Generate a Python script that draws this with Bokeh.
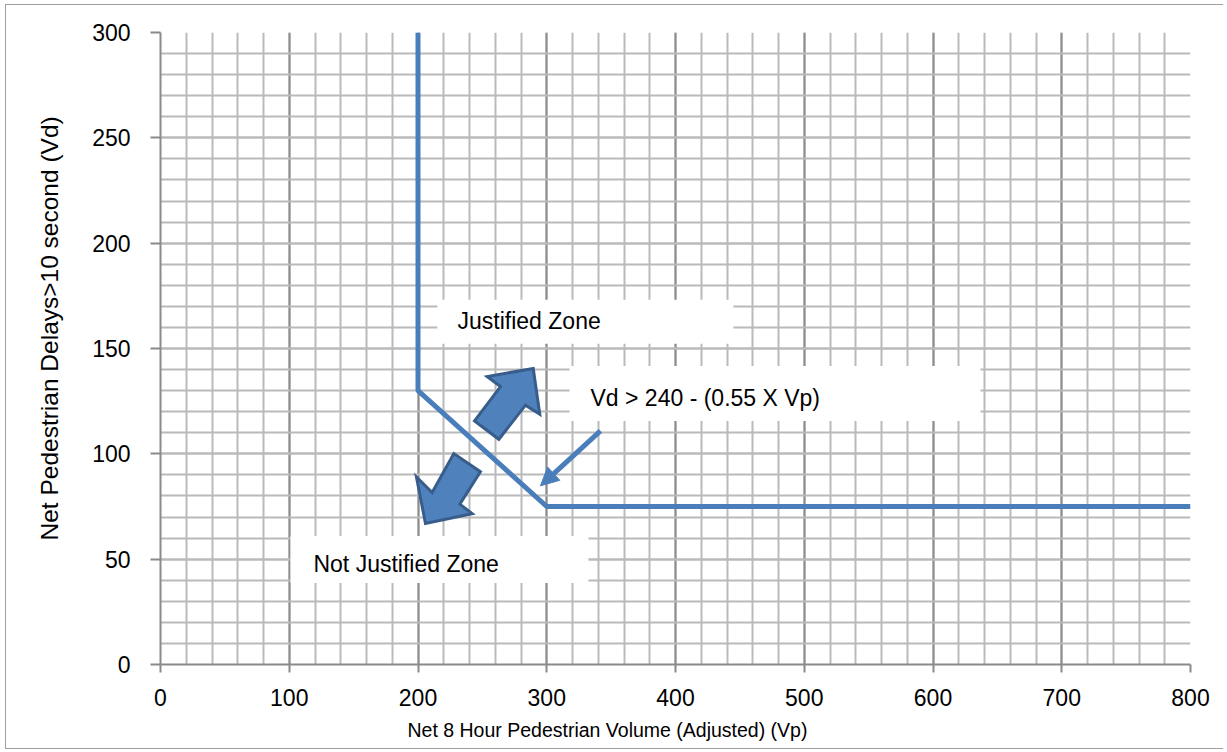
from bokeh.plotting import figure
from bokeh.models import Range1d, SingleIntervalTicker, Label, Arrow, NormalHead, Title
from bokeh.embed import file_html
from bokeh.resources import INLINE

# ---- data ----
x_title = "Net 8 Hour Pedestrian Volume (Adjusted) (Vp)"
y_title = "Net Pedestrian Delays>10 second (Vd)"
x_limits = [0, 800]
y_limits = [0, 300]
x_major_step = 100
y_major_step = 50

boundary_vp = [200, 200, 300, 800]
boundary_vd = [300, 130, 75, 75]

label_justified = "Justified Zone"
label_not_justified = "Not Justified Zone"
label_formula = "Vd > 240 - (0.55 X Vp)"

# block arrows (data units)
up_arrow_vp = [289.5, 253.7, 264.1, 243.9, 262.8, 283.5, 294.6]
up_arrow_vd = [140.5, 136.7, 131.9, 115.6, 106.9, 123.1, 118.8]
down_arrow_vp = [205.8, 198.8, 211.0, 227.8, 248.5, 232.5, 242.1]
down_arrow_vd = [66.9, 89.0, 81.6, 100.1, 91.5, 76.1, 71.6]

# pointer arrow (start -> end), data units
pointer_vp = [341.7, 295.1]
pointer_vd = [110.9, 84.8]

FONT = "Liberation Sans"
BLUE = "#4A7EBB"

p = figure(width=1218, height=745, output_backend="svg", toolbar_location=None,
           x_range=Range1d(*x_limits), y_range=Range1d(*y_limits),
           min_border_left=154, min_border_right=34, min_border_top=27, min_border_bottom=86)
p.styles = {"margin-left": "5px", "margin-top": "4px",
            "border-left": "1px solid #a0a0a0", "border-top": "1px solid #a0a0a0",
            "border-bottom": "1px solid #a0a0a0"}
p.outline_line_color = None
p.background_fill_color = "white"
p.border_fill_color = "white"

p.xaxis.ticker = SingleIntervalTicker(interval=x_major_step, num_minor_ticks=5)
p.yaxis.ticker = SingleIntervalTicker(interval=y_major_step, num_minor_ticks=5)

p.xgrid.grid_line_color = "#8c8c8c"
p.xgrid.grid_line_width = 2
p.xgrid.minor_grid_line_color = "#bababa"
p.xgrid.minor_grid_line_width = 2
p.ygrid.grid_line_color = "#bababa"
p.ygrid.grid_line_width = 2
p.ygrid.minor_grid_line_color = "#bababa"
p.ygrid.minor_grid_line_width = 2

for ax in (p.xaxis, p.yaxis):
    ax.axis_line_color = "#8a8a8a"
    ax.axis_line_width = 2
    ax.major_tick_line_color = "#8a8a8a"
    ax.major_tick_line_width = 2
    ax.major_tick_in = 0
    ax.minor_tick_line_color = None
    ax.major_label_text_font = FONT
    ax.major_label_text_font_size = "23px"
    ax.major_label_text_color = "black"
p.yaxis.major_tick_out = 10
p.yaxis.major_label_standoff = 20
p.xaxis.major_tick_out = 8
p.xaxis.major_label_standoff = 16

# white text boxes
p.quad(left=[215.1, 317.7, 101.0], right=[445.0, 636.9, 332.4],
       top=[173.1, 141.7, 61.0], bottom=[152.2, 115.6, 38.7],
       fill_color="white", line_color=None)

# boundary line
p.line(boundary_vp, boundary_vd, line_color=BLUE, line_width=5)

# block arrows
p.patches(xs=[up_arrow_vp, down_arrow_vp], ys=[up_arrow_vd, down_arrow_vd],
          fill_color="#4F81BD", line_color="#385D8A", line_width=3, line_join="miter")

# pointer arrow
p.add_layout(Arrow(end=NormalHead(size=18, fill_color=BLUE, line_color=BLUE, line_width=1),
                   x_start=pointer_vp[0], y_start=pointer_vd[0],
                   x_end=pointer_vp[1], y_end=pointer_vd[1],
                   line_color=BLUE, line_width=5))

for txt, x, y in [(label_justified, 230.7, 163.1),
                  (label_formula, 334.0, 126.7),
                  (label_not_justified, 118.8, 47.9)]:
    p.add_layout(Label(x=x, y=y, text=txt, text_font=FONT, text_font_size="23px",
                       text_color="black", text_align="left", text_baseline="middle"))

# axis titles
p.add_layout(Title(text=x_title, align="left", offset=247, standoff=16,
                   text_font=FONT, text_font_size="19.5px", text_font_style="normal",
                   text_color="black"), "below")
p.add_layout(Title(text=y_title, align="left", offset=124, standoff=54,
                   text_font=FONT, text_font_size="24.5px", text_font_style="normal",
                   text_color="black"), "left")

open("out.html", "w").write(file_html(p, INLINE))
